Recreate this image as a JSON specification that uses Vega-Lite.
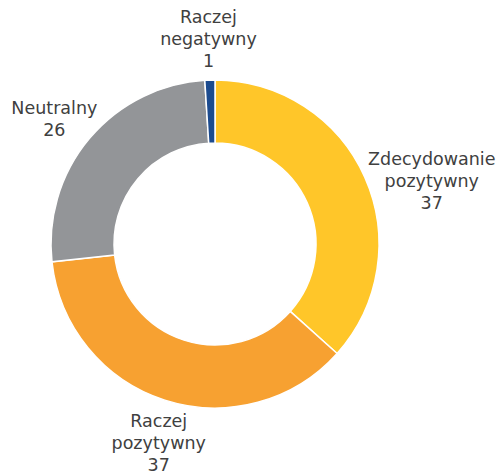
{
  "$schema": "https://vega.github.io/schema/vega-lite/v6.json",
  "width": 430,
  "height": 488,
  "autosize": "none",
  "padding": {"left": 0, "top": 0, "right": 69, "bottom": 0},
  "background": "white",
  "data": {
    "values": [
      {"cat": "Zdecydowanie pozytywny", "label": "Zdecydowanie\npozytywny\n37", "value": 37, "rank": 1},
      {"cat": "Raczej pozytywny", "label": "Raczej\npozytywny\n37", "value": 37, "rank": 2},
      {"cat": "Neutralny", "label": "Neutralny\n26", "value": 26, "rank": 3},
      {"cat": "Raczej negatywny", "label": "Raczej\nnegatywny\n1", "value": 1, "rank": 4}
    ]
  },
  "encoding": {
    "theta": {"field": "value", "type": "quantitative", "stack": true},
    "order": {"field": "rank", "type": "quantitative", "sort": "ascending"}
  },
  "layer": [
    {
      "mark": {"type": "arc", "outerRadius": 164, "innerRadius": 101, "stroke": "white", "strokeWidth": 1.5},
      "encoding": {
        "color": {
          "field": "cat",
          "type": "nominal",
          "scale": {
            "domain": ["Zdecydowanie pozytywny", "Raczej pozytywny", "Neutralny", "Raczej negatywny"],
            "range": ["#FFC629", "#F7A131", "#939598", "#1C4B8F"]
          },
          "legend": null
        }
      }
    },
    {
      "mark": {"type": "text", "radius": 210, "dx": 25, "dy": 2, "lineBreak": "\n", "lineHeight": 22, "font": "DejaVu Sans", "fontSize": 17.5, "color": "#404040", "align": "center", "baseline": "middle"},
      "encoding": {"text": {"condition": {"test": "datum.cat === 'Zdecydowanie pozytywny'", "field": "label"}, "value": ""}}
    },
    {
      "mark": {"type": "text", "radius": 210, "dx": 8, "dy": -22, "lineBreak": "\n", "lineHeight": 22, "font": "DejaVu Sans", "fontSize": 17.5, "color": "#404040", "align": "center", "baseline": "middle"},
      "encoding": {"text": {"condition": {"test": "datum.cat === 'Raczej pozytywny'", "field": "label"}, "value": ""}}
    },
    {
      "mark": {"type": "text", "radius": 210, "dx": 0, "dy": 0, "lineBreak": "\n", "lineHeight": 22, "font": "DejaVu Sans", "fontSize": 17.5, "color": "#404040", "align": "center", "baseline": "middle"},
      "encoding": {"text": {"condition": {"test": "datum.cat === 'Neutralny'", "field": "label"}, "value": ""}}
    },
    {
      "mark": {"type": "text", "radius": 210, "dx": 0, "dy": -16, "lineBreak": "\n", "lineHeight": 22, "font": "DejaVu Sans", "fontSize": 17.5, "color": "#404040", "align": "center", "baseline": "middle"},
      "encoding": {"text": {"condition": {"test": "datum.cat === 'Raczej negatywny'", "field": "label"}, "value": ""}}
    }
  ],
  "view": {"stroke": null}
}
